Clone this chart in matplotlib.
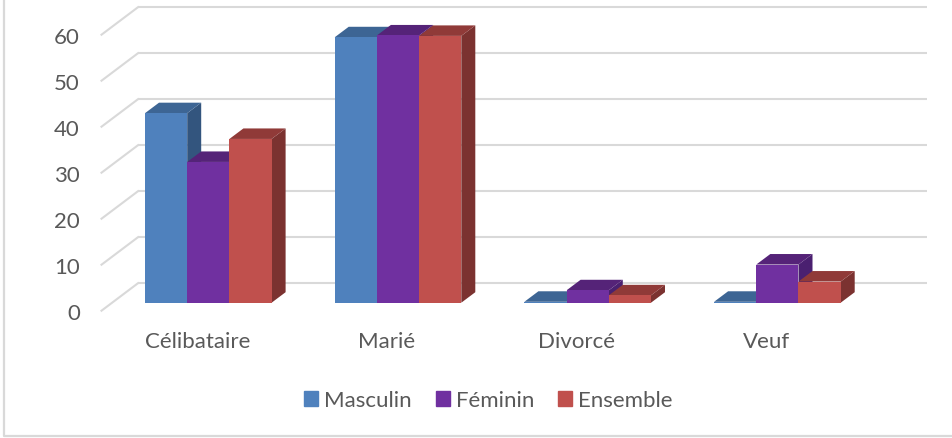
import matplotlib
matplotlib.use("Agg")
import matplotlib.pyplot as plt
from matplotlib.patches import Patch

plt.rcParams["font.family"] = ["Lato", "DejaVu Sans"]

categories = ["Célibataire", "Marié", "Divorcé", "Veuf"]
series = ["Masculin", "Féminin", "Ensemble"]
masculin = [41.2, 57.7, 0.2, 0.2]
feminin = [30.6, 58.1, 2.7, 8.3]
ensemble = [35.6, 58.0, 1.6, 4.6]
ticks = [0, 10, 20, 30, 40, 50, 60]

front_colors = ["#4F81BD", "#7030A0", "#C0504D"]
top_colors = ["#3D6594", "#552378", "#903A38"]
side_colors = ["#33557E", "#4A2070", "#7B3230"]
text_color = "#595959"

# pixel layout of the picture, turned into data units below
W, H = 953, 439
cat_px = 189.7
first_px = 208.3
base_px = 303.7
unit_px = 4.6

fig = plt.figure(figsize=(W / 100, H / 100), dpi=100)
ax = fig.add_axes([0, 0, 1, 1])
ax.set_xlim((0 - first_px) / cat_px, (W - first_px) / cat_px)
ax.set_ylim((base_px - H) / unit_px, base_px / unit_px)
ax.axis("off")


def dx(px):
    return px / cat_px


def dy(px):
    return px / unit_px


# gridlines: back wall plus the slanted part on the side wall
for t in ticks:
    y_back = t + dy(19.5)
    ax.plot([dx(138 - first_px), dx(927 - first_px)], [y_back, y_back],
            color="#D9D9D9", lw=1.5, zorder=1, solid_capstyle="butt")
    ax.plot([dx(101.5 - first_px), dx(138 - first_px)], [t - dy(8), y_back],
            color="#D9D9D9", lw=1.5, zorder=1)
    ax.text(dx(80 - first_px), t - dy(10), str(t), ha="right", va="center",
            fontsize=16, color=text_color)

# 3d looking bars, left to right so each one covers its neighbour's side
bar_w = 42.2 / cat_px
off_x = dx(14)
off_y = dy(10.5)
for i, cat in enumerate(categories):
    for j, values in enumerate([masculin, feminin, ensemble]):
        v = values[i]
        x0 = i + (j - 1.5) * bar_w
        x1 = x0 + bar_w
        ax.fill([x1, x1 + off_x, x1 + off_x, x1], [0, off_y, v + off_y, v],
                color=side_colors[j], lw=0, zorder=2 + j)
        ax.fill([x0, x1, x1 + off_x, x0 + off_x], [v, v, v + off_y, v + off_y],
                color=top_colors[j], lw=0, zorder=2 + j)
        ax.bar(x0, v, width=bar_w, align="edge", color=front_colors[j], lw=0, zorder=2 + j)
    ax.text(i - dx(11), dy(-38), cat, ha="center", va="center", fontsize=16, color=text_color)

handles = [Patch(color=c, label=s) for c, s in zip(front_colors, series)]
ax.legend(handles=handles, ncol=3, frameon=False, loc="center",
          bbox_to_anchor=(488.5 / W, 1 - 401.5 / H), fontsize=16, labelcolor=text_color,
          handlelength=0.63, handleheight=0.63, handletextpad=0.27, columnspacing=1.08)

# outer chart frame
ax.plot([dx(4.5 - first_px), dx(4.5 - first_px), dx(W - first_px)],
        [dy(base_px - 0), dy(base_px - 437), dy(base_px - 437)],
        color="#D9D9D9", lw=1.6, zorder=1)

fig.savefig("out.png", dpi=100)
